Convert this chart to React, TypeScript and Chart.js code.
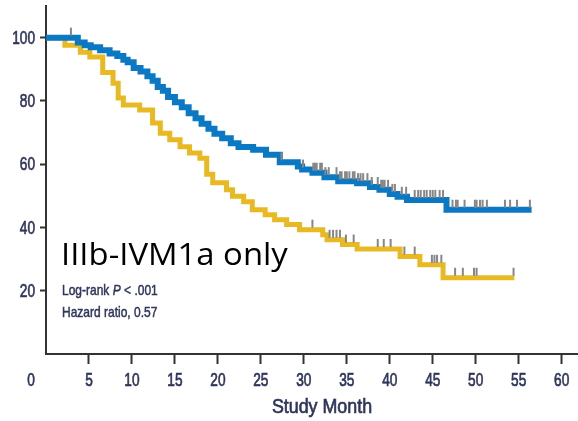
import React, { useEffect, useRef } from 'react';
import { Chart, registerables } from 'chart.js';
Chart.register(...registerables);

// ---- Data ----
const xTickValues = [5, 10, 15, 20, 25, 30, 35, 40, 45, 50, 55, 60];
const yTickValues = [20, 40, 60, 80, 100];

const blueMonths = [0, 3.7, 4.5, 5.2, 6.3, 7.4, 8.3, 9.0, 9.5, 10.2, 11.0, 11.8, 12.4, 13.0, 13.6, 14.2, 15.0, 15.8, 16.6, 17.4, 18.1, 18.9, 19.6, 20.5, 21.5, 22.4, 24.1, 25.6, 27.2, 29.3, 29.8, 31.0, 32.4, 34.0, 36.2, 37.7, 38.8, 40.0, 40.9, 42.0, 46.6, 56.5];
const blueSurvival = [100, 98.5, 97.6, 97.0, 96.0, 95.0, 94.2, 93.0, 92.2, 90.4, 89.3, 87.8, 86.4, 84.4, 83.2, 81.2, 79.6, 78.0, 76.1, 74.5, 72.8, 71.2, 69.6, 68.2, 66.6, 65.4, 64.6, 63.0, 60.6, 59.3, 58.3, 57.3, 55.9, 54.6, 54.0, 52.8, 51.9, 50.6, 49.7, 48.7, 45.6, 45.6];
const blueCensored = [2.9, 27.4, 29.9, 31.1, 31.3, 31.5, 31.9, 32.1, 32.5, 32.9, 33.8, 34.2, 34.4, 34.8, 35.0, 35.3, 35.7, 35.9, 36.3, 36.6, 36.9, 37.4, 37.9, 38.6, 39.0, 39.2, 39.4, 39.8, 40.3, 40.6, 41.4, 41.9, 42.9, 43.3, 43.6, 44.0, 44.3, 44.7, 45.0, 45.3, 45.8, 46.2, 47.3, 47.7, 47.9, 48.7, 49.9, 50.1, 50.5, 50.8, 51.3, 53.4, 54.0, 54.8, 56.3];

const yellowMonths = [0, 2.2, 4.0, 5.1, 6.6, 7.8, 8.4, 9.0, 10.9, 12.4, 13.3, 14.4, 15.6, 16.7, 17.9, 18.7, 19.4, 21.0, 21.7, 23.0, 24.0, 25.5, 26.6, 28.0, 29.5, 32.2, 32.7, 34.5, 36.2, 41.2, 43.5, 46.2, 54.5];
const yellowSurvival = [100, 97.6, 95.4, 93.9, 89.0, 85.6, 80.9, 78.7, 77.1, 73.0, 69.8, 67.7, 65.5, 63.5, 61.9, 56.8, 54.1, 51.9, 49.9, 48.1, 45.6, 44.0, 42.4, 40.9, 39.3, 37.7, 36.1, 34.6, 33.2, 30.8, 28.2, 24.1, 24.1];
const yellowCensored = [31.0, 33.0, 33.4, 33.8, 34.2, 34.9, 35.8, 38.6, 39.3, 40.1, 41.7, 42.9, 44.9, 45.2, 45.5, 46.0, 47.6, 48.5, 49.8, 50.1, 54.4];

const xTitle = 'Study Month';
const zeroLabel = '0';
const subsetLabel = 'IIIb-IVM1a only';
const statLine1 = ['Log-rank ', 'P', ' < .001'];
const statLine2 = 'Hazard ratio, 0.57';

// ---- Styles ----
const BLUE = '#0a78c2';
const YELLOW = '#e9b923';
const CENSOR = '#878787';
const AXIS = '#333333';
const LABEL = '#2f355c';
const SANS = "'Liberation Sans', Arial, sans-serif";

function survivalAt(months: number[], surv: number[], t: number) {
  let s = surv[0];
  for (let i = 0; i < months.length; i++) if (months[i] <= t) s = surv[i];
  return s;
}

// draw horizontally condensed, slightly emboldened text (reference uses a condensed face)
function condensed(ctx: any, text: string, x: number, y: number, font: string, sx: number, align: string, baseline: string, stroke = 0.7) {
  ctx.save();
  ctx.translate(x, y);
  ctx.scale(sx, 1);
  ctx.font = font;
  ctx.textAlign = align;
  ctx.textBaseline = baseline;
  ctx.fillText(text, 0, 0);
  if (stroke > 0) {
    ctx.strokeStyle = ctx.fillStyle;
    ctx.lineWidth = stroke;
    ctx.strokeText(text, 0, 0);
  }
  ctx.restore();
}

const overlayPlugin = {
  id: 'overlay',
  afterDatasetsDraw(chart: any) {
    const { ctx, scales } = chart;
    const x = scales.x, y = scales.y;
    ctx.save();
    ctx.strokeStyle = CENSOR;
    ctx.lineWidth = 2;
    const marks = (times: number[], months: number[], surv: number[]) => {
      times.forEach((t) => {
        const px = x.getPixelForValue(t);
        const py = y.getPixelForValue(survivalAt(months, surv, t));
        ctx.beginPath();
        ctx.moveTo(px, py - 2);
        ctx.lineTo(px, py - 10);
        ctx.stroke();
      });
    };
    marks(blueCensored, blueMonths, blueSurvival);
    marks(yellowCensored, yellowMonths, yellowSurvival);
    ctx.restore();
  },
  afterDraw(chart: any) {
    const { ctx, scales, chartArea } = chart;
    const x = scales.x, y = scales.y;
    ctx.save();
    ctx.fillStyle = LABEL;
    const tickFont = `19px ${SANS}`;
    x.ticks.forEach((t: any) => {
      condensed(ctx, String(t.value), x.getPixelForValue(t.value), chartArea.bottom + 17, tickFont, 0.72, 'center', 'top');
    });
    condensed(ctx, zeroLabel, x.getPixelForValue(0) - 15, chartArea.bottom + 17, tickFont, 0.72, 'center', 'top');
    y.ticks.forEach((t: any) => {
      condensed(ctx, String(t.value), chartArea.left - 11, y.getPixelForValue(t.value) + 1, tickFont, 0.72, 'right', 'middle');
    });
    condensed(ctx, xTitle, 322, 397, `21px ${SANS}`, 0.85, 'center', 'top');
    let cx = 62;
    const sx = 0.8;
    statLine1.forEach((part, i) => {
      const f = `${i === 1 ? 'italic ' : ''}15px ${SANS}`;
      condensed(ctx, part, cx, 295, f, sx, 'left', 'alphabetic', 0.5);
      ctx.font = f;
      cx += ctx.measureText(part).width * sx;
    });
    condensed(ctx, statLine2, 62, 317, `15px ${SANS}`, sx, 'left', 'alphabetic', 0.5);
    ctx.fillStyle = '#000000';
    condensed(ctx, subsetLabel, 61, 265, `31px 'Open Sans', sans-serif`, 1.06, 'left', 'alphabetic', 0);
    ctx.restore();
  },
};

export default function App() {
  const ref = useRef<HTMLCanvasElement>(null);
  useEffect(() => {
    if (!ref.current) return;
    const chart = new Chart(ref.current, {
      type: 'line',
      data: {
        datasets: [
          {
            label: 'Blue',
            data: blueMonths.map((m, i) => ({ x: m, y: blueSurvival[i] })),
            borderColor: BLUE,
            borderWidth: 6,
            stepped: 'before',
            pointRadius: 0,
            fill: false,
            borderJoinStyle: 'miter',
            borderCapStyle: 'butt',
          },
          {
            label: 'Yellow',
            data: yellowMonths.map((m, i) => ({ x: m, y: yellowSurvival[i] })),
            borderColor: YELLOW,
            borderWidth: 5,
            stepped: 'before',
            pointRadius: 0,
            fill: false,
            borderJoinStyle: 'miter',
            borderCapStyle: 'butt',
          },
        ],
      },
      options: {
        animation: false,
        responsive: false,
        layout: { padding: { top: 6, right: 0, left: 0, bottom: 0 } },
        plugins: { legend: { display: false }, tooltip: { enabled: false }, title: { display: false } },
        scales: {
          x: {
            type: 'linear',
            min: 0,
            max: 61.9,
            afterBuildTicks: (s: any) => { s.ticks = xTickValues.map((v) => ({ value: v })); },
            afterFit: (s: any) => { s.height = 67; },
            grid: { drawOnChartArea: false, tickLength: 10, tickWidth: 2, tickColor: AXIS },
            border: { color: AXIS, width: 2 },
            ticks: { display: false },
          },
          y: {
            type: 'linear',
            min: 0,
            max: 110,
            afterBuildTicks: (s: any) => { s.ticks = yTickValues.map((v) => ({ value: v })); },
            afterFit: (s: any) => { s.width = 46; },
            grid: { drawOnChartArea: false, tickLength: 6, tickWidth: 2, tickColor: AXIS },
            border: { color: AXIS, width: 2 },
            ticks: { display: false },
          },
        },
      },
      plugins: [overlayPlugin],
    } as any);
    return () => chart.destroy();
  }, []);
  return (
    <div style={{ position: 'absolute', left: 0, top: 0, width: 578, height: 421, background: '#fff' }}>
      <canvas ref={ref} width={578} height={421} style={{ display: 'block' }} />
    </div>
  );
}
